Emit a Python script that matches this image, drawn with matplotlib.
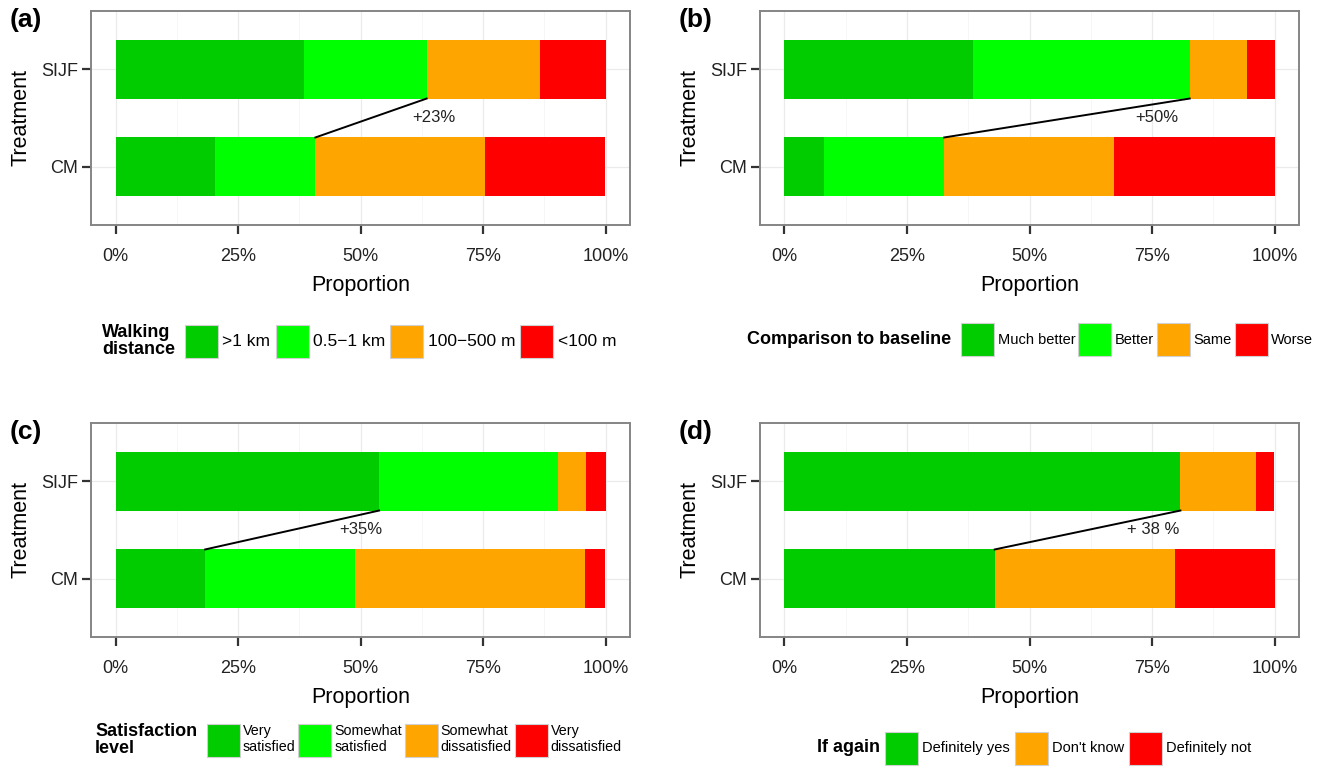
import matplotlib
matplotlib.use("Agg")
import matplotlib.pyplot as plt
from matplotlib.patches import Patch

plt.rcParams['font.family'] = ['Liberation Sans', 'DejaVu Sans']

# data (percent of respondents)
groups = ['CM', 'SIJF']
colors4 = ['#00CC00', '#00FF00', '#FFA500', '#FF0000']
colors3 = ['#00CC00', '#FFA500', '#FF0000']

walk_labels = ['>1 km', '0.5\u22121 km', '100\u2212500 m', '<100 m']
walk_cm = [20.4, 20.4, 34.7, 24.5]
walk_sijf = [38.5, 25.0, 23.1, 13.4]

base_labels = ['Much better', 'Better', 'Same', 'Worse']
base_cm = [8.1, 24.5, 34.6, 32.8]
base_sijf = [38.5, 44.2, 11.6, 5.7]

sat_labels = ['Very\nsatisfied', 'Somewhat\nsatisfied', 'Somewhat\ndissatisfied', 'Very\ndissatisfied']
sat_cm = [18.3, 30.6, 47.0, 4.1]
sat_sijf = [53.8, 36.5, 5.8, 3.9]

again_labels = ['Definitely yes', "Don't know", 'Definitely not']
again_cm = [42.9, 36.7, 20.4]
again_sijf = [80.8, 15.4, 3.8]

W, H = 1322, 768
fig = plt.figure(figsize=(W / 100, H / 100), dpi=100)


def px(x, y):
    return x / W, 1 - y / H


def panel(rect, tag, cm, sijf, labels, colors, link, note, note_x):
    ax = fig.add_axes(rect)
    ypos = [1, 2]
    for vals, y in zip([cm, sijf], ypos):
        left = 0
        for v, c in zip(vals, colors):
            ax.barh(y, v, left=left, height=0.6, color=c, linewidth=0)
            left += v
    # connector line between the two cumulative boundaries
    x_cm = sum(cm[:link + 1])
    x_sj = sum(sijf[:link + 1])
    ax.plot([x_cm, x_sj], [1.3, 1.7], color='black', lw=1.4, zorder=3)
    ax.text(note_x, 1.5, note, ha='center', va='center', fontsize=12, color='#222222')

    ax.set_xlim(-5, 105)
    ax.set_ylim(0.4, 2.6)
    ax.set_xticks([0, 25, 50, 75, 100])
    ax.set_xticklabels(['0%', '25%', '50%', '75%', '100%'])
    ax.set_xticks([12.5, 37.5, 62.5, 87.5], minor=True)
    ax.set_yticks(ypos)
    ax.set_yticklabels(groups)
    ax.tick_params(axis='both', which='major', length=6.5, width=1.6, color='#333333',
                   labelsize=13, labelcolor='#222222')
    ax.tick_params(axis='x', which='major', pad=10)
    ax.tick_params(axis='y', which='major', pad=3)
    ax.tick_params(axis='x', which='minor', length=0)
    ax.grid(True, which='major', color='#EBEBEB', lw=0.9)
    ax.grid(True, which='minor', axis='x', color='#F5F5F5', lw=0.6)
    ax.set_axisbelow(True)
    for s in ax.spines.values():
        s.set_color('#858585')
        s.set_linewidth(1.4)
    ax.set_xlabel('Proportion', fontsize=15.5, labelpad=7)
    ax.set_ylabel('Treatment', fontsize=15.5, labelpad=7)
    tx, ty = px(rect[0] * W - 81, (1 - rect[1] - rect[3]) * H + 9)
    fig.text(tx, ty, tag, fontsize=19, fontweight='bold', ha='left', va='center')
    return ax


def legend(ax, title, labels, colors, tx, kx, y, size, tpad, cspace):
    # key patch 33 x 33 px
    keypt = 33 * 72 / 100
    hl = keypt / size
    hh = (keypt / size - 0.245) / 0.65
    handles = [Patch(facecolor=c, edgecolor='#D0D0D0', linewidth=0.8) for c in colors]
    fx, fy = px(kx, y)
    ax.legend(handles, labels, loc='center left', bbox_to_anchor=(fx, fy),
              bbox_transform=fig.transFigure, ncol=len(labels), frameon=False,
              fontsize=size, handlelength=hl, handleheight=hh, handletextpad=tpad,
              columnspacing=cspace, borderpad=0, borderaxespad=0)
    tfx, tfy = px(tx, y)
    fig.text(tfx, tfy, title, fontsize=13, fontweight='bold', ha='left',
             va='center', linespacing=1.05)


axw = (630 - 91) / W
axh = (225 - 11) / H
ax_a = panel([91 / W, 1 - 225 / H, axw, axh], '(a)', walk_cm, walk_sijf,
             walk_labels, colors4, 1, '+23%', 65)
ax_b = panel([760 / W, 1 - 225 / H, axw, axh], '(b)', base_cm, base_sijf,
             base_labels, colors4, 1, '+50%', 76)
ax_c = panel([91 / W, 1 - 637 / H, axw, axh], '(c)', sat_cm, sat_sijf,
             sat_labels, colors4, 0, '+35%', 50)
ax_d = panel([760 / W, 1 - 637 / H, axw, axh], '(d)', again_cm, again_sijf,
             again_labels, colors3, 0, '+ 38 %', 75.3)

legend(ax_a, 'Walking\ndistance', walk_labels, colors4, 102, 185, 341, 12.5, 0.25, 0.3)
legend(ax_b, 'Comparison to baseline', base_labels, colors4, 747, 961, 340, 10.5, 0.25, 0.2)
legend(ax_c, 'Satisfaction\nlevel', sat_labels, colors4, 95, 207, 740, 10.3, 0.2, 0.2)
legend(ax_d, 'If again', again_labels, colors3, 817, 885, 748, 10.5, 0.3, 0.3)

fig.savefig('out.png', dpi=100)
